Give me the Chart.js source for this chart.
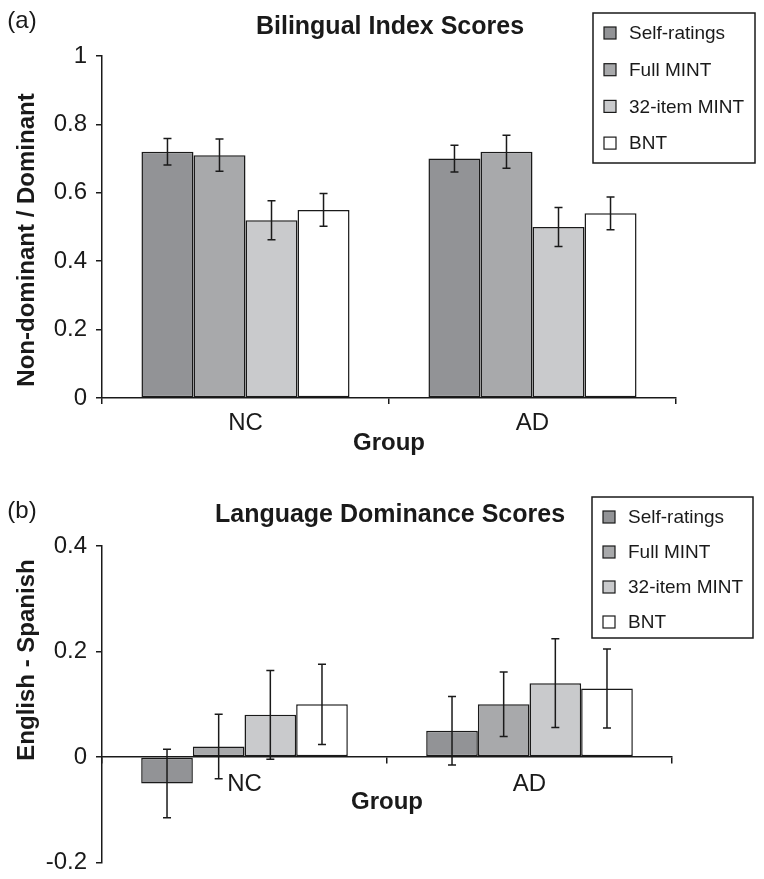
<!DOCTYPE html>
<html>
<head>
<meta charset="utf-8">
<script src="https://cdn.jsdelivr.net/npm/chart.js@4.4.1/dist/chart.umd.min.js"></script>
<style>
html, body { margin: 0; background: #fff; overflow: hidden; }
.panel { position: absolute; left: 0; width: 764px; }
</style>
</head>
<body>
<div class="panel" style="top:0;height:470px"><canvas id="chartA" width="764" height="470"></canvas></div>
<div class="panel" style="top:470px;height:416px"><canvas id="chartB" width="764" height="416"></canvas></div>
<script>
// groups and series
const groups = ['NC', 'AD'];
const seriesNames = ['Self-ratings', 'Full MINT', '32-item MINT', 'BNT'];
const seriesColors = ['#929396', '#a8a9ab', '#c9cacc', '#ffffff'];

// (a) bilingual index scores
const indexSelf = [0.72, 0.70];
const indexFull = [0.71, 0.72];
const index32 = [0.52, 0.50];
const indexBnt = [0.55, 0.54];
const indexSelfErr = [0.039, 0.039];
const indexFullErr = [0.047, 0.048];
const index32Err = [0.057, 0.057];
const indexBntErr = [0.048, 0.048];
const indexTicks = [0, 0.2, 0.4, 0.6, 0.8, 1];

// (b) language dominance scores
const domSelf = [-0.05, 0.05];
const domFull = [0.02, 0.10];
const dom32 = [0.08, 0.14];
const domBnt = [0.10, 0.13];
const domSelfErr = [0.065, 0.065];
const domFullErr = [0.061, 0.061];
const dom32Err = [0.084, 0.084];
const domBntErr = [0.076, 0.075];
const domTicks = [-0.2, 0, 0.2, 0.4];

const ink = '#1a1a1a';
const fontFam = '"Liberation Sans", Arial, Helvetica, sans-serif';
Chart.defaults.font.family = fontFam;
Chart.defaults.color = ink;

function makeDatasets(values, errors)
{
    return seriesNames.map(function(name, i){
        return {
            label: name,
            data: values[i],
            errors: errors[i],
            backgroundColor: seriesColors[i],
            borderColor: ink,
            borderWidth: 1.5,
            borderSkipped: false,
            categoryPercentage: 0.725,
            barPercentage: 1.0
        };
    });
}

const errorBars = {
    id: 'errorBars',
    afterDatasetsDraw(chart) {
        let ctx = chart.ctx;
        let yScale = chart.scales.y;
        ctx.save();
        ctx.strokeStyle = ink;
        ctx.lineWidth = 1.5;
        chart.data.datasets.forEach(function(ds, i){
            let meta = chart.getDatasetMeta(i);
            meta.data.forEach(function(bar, j){
                let v = ds.data[j], e = ds.errors[j];
                let yTop = yScale.getPixelForValue(v + e);
                let yBot = yScale.getPixelForValue(v - e);
                let x = bar.x;
                ctx.beginPath();
                ctx.moveTo(x, yTop); ctx.lineTo(x, yBot);
                ctx.moveTo(x - 4, yTop); ctx.lineTo(x + 4, yTop);
                ctx.moveTo(x - 4, yBot); ctx.lineTo(x + 4, yBot);
                ctx.stroke();
            });
        });
        ctx.restore();
    }
};

const boxLegend = {
    id: 'boxLegend',
    afterDraw(chart, args, opts) {
        let ctx = chart.ctx;
        ctx.save();
        ctx.fillStyle = '#fff';
        ctx.fillRect(opts.x, opts.y, opts.w, opts.h);
        ctx.strokeStyle = ink;
        ctx.lineWidth = 1.5;
        ctx.strokeRect(opts.x, opts.y, opts.w, opts.h);
        ctx.font = '19px ' + fontFam;
        ctx.textBaseline = 'middle';
        chart.data.datasets.forEach(function(ds, i){
            let cy = opts.y + opts.first + i * opts.step;
            ctx.fillStyle = ds.backgroundColor;
            ctx.fillRect(opts.x + 11, cy - 6, 12, 12);
            ctx.lineWidth = 1.2;
            ctx.strokeRect(opts.x + 11, cy - 6, 12, 12);
            ctx.fillStyle = ink;
            ctx.fillText(ds.label, opts.x + 36, cy + 1);
        });
        ctx.restore();
    }
};

const decor = {
    id: 'decor',
    afterDraw(chart, args, opts) {
        let ctx = chart.ctx;
        ctx.save();
        ctx.fillStyle = ink;
        ctx.textAlign = 'center';
        ctx.textBaseline = 'middle';
        ctx.font = '24px ' + fontFam;
        ctx.fillText(opts.panel, opts.panelX, opts.panelY);
        ctx.font = 'bold 25px ' + fontFam;
        ctx.fillText(opts.title, opts.titleX, opts.titleY);
        ctx.translate(opts.yTitleX, opts.yTitleY);
        ctx.rotate(-Math.PI / 2);
        ctx.font = 'bold 24px ' + fontFam;
        ctx.fillText(opts.yTitle, 0, 0);
        ctx.restore();
    }
};

function axisX(pos, tickPad)
{
    return {
        position: pos,
        grid: { drawOnChartArea: false, drawTicks: true, tickLength: 6, color: ink, lineWidth: 1.5, offset: true },
        border: { display: true, color: ink, width: 1.5 },
        ticks: { font: { size: 24 }, color: ink, padding: tickPad },
        title: { display: true, text: 'Group', font: { size: 24, weight: 'bold' }, color: ink, padding: { top: 2, bottom: 12 } },
        afterFit: function(s){ s.height = 72; }
    };
}

function axisY(min, max, tickList)
{
    return {
        min: min,
        max: max,
        afterBuildTicks: function(s){ s.ticks = tickList.map(function(v){ return { value: v }; }); },
        grid: { drawOnChartArea: false, drawTicks: true, tickLength: 6, color: ink, lineWidth: 1.5 },
        border: { display: true, color: ink, width: 1.5 },
        ticks: { font: { size: 24 }, color: ink, padding: 9, callback: function(v){ return String(v); } },
        afterFit: function(s){ s.width = 102; }
    };
}

new Chart(document.getElementById('chartA'), {
    type: 'bar',
    data: {
        labels: groups,
        datasets: makeDatasets([indexSelf, indexFull, index32, indexBnt], [indexSelfErr, indexFullErr, index32Err, indexBntErr])
    },
    options: {
        responsive: false,
        animation: false,
        layout: { padding: { left: 0, right: 88, top: 56, bottom: 0 } },
        scales: { x: axisX('bottom', 5), y: axisY(0, 1, indexTicks) },
        plugins: {
            legend: { display: false },
            tooltip: { enabled: false },
            boxLegend: { x: 593, y: 13, w: 162, h: 150, first: 20, step: 36.7 },
            decor: { panel: '(a)', panelX: 22, panelY: 21, title: 'Bilingual Index Scores', titleX: 390, titleY: 27,
                     yTitle: 'Non-dominant / Dominant', yTitleX: 27, yTitleY: 240 }
        }
    },
    plugins: [errorBars, boxLegend, decor]
});

new Chart(document.getElementById('chartB'), {
    type: 'bar',
    data: {
        labels: groups,
        datasets: makeDatasets([domSelf, domFull, dom32, domBnt], [domSelfErr, domFullErr, dom32Err, domBntErr])
    },
    options: {
        responsive: false,
        animation: false,
        layout: { padding: { left: 0, right: 92, top: 76, bottom: 12 } },
        scales: { x: axisX({ y: 0 }, 7), y: axisY(-0.2, 0.4, domTicks) },
        plugins: {
            legend: { display: false },
            tooltip: { enabled: false },
            boxLegend: { x: 592, y: 27, w: 161, h: 141, first: 20, step: 35 },
            decor: { panel: '(b)', panelX: 22, panelY: 41, title: 'Language Dominance Scores', titleX: 390, titleY: 45,
                     yTitle: 'English - Spanish', yTitleX: 27, yTitleY: 190 }
        }
    },
    plugins: [errorBars, boxLegend, decor]
});
</script>
</body>
</html>
